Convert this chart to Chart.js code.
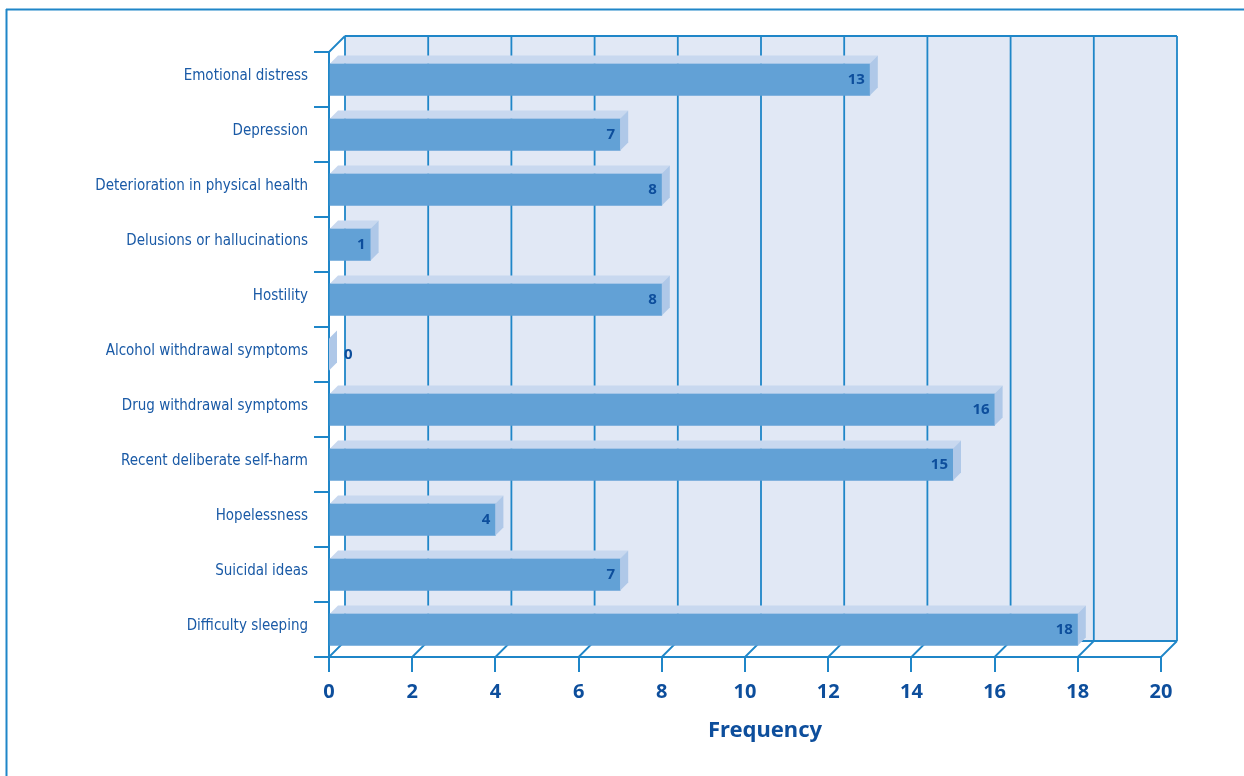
<!DOCTYPE html>
<html>
<head>
<meta charset="utf-8">
<script src="https://cdn.jsdelivr.net/npm/chart.js@4/dist/chart.umd.min.js"></script>
<style>
  html, body { margin: 0; padding: 0; background: #fff; }
  #wrap { width: 1244px; height: 776px; }
</style>
</head>
<body>
<div id="wrap"><canvas id="myChart" width="1244" height="776"></canvas></div>
<script>
const categories = [
  'Emotional distress',
  'Depression',
  'Deterioration in physical health',
  'Delusions or hallucinations',
  'Hostility',
  'Alcohol withdrawal symptoms',
  'Drug withdrawal symptoms',
  'Recent deliberate self-harm',
  'Hopelessness',
  'Suicidal ideas',
  'Difficulty sleeping'
];
const frequency = [13, 7, 8, 1, 8, 0, 16, 15, 4, 7, 18];
const xMin = 0, xMax = 20, xStep = 2;
const axisTitle = 'Frequency';

const LINE = '#1f86c8';
const TEXT = '#1a5aa6';
const TICKTXT = '#0d4e9c';
const WALL = '#e1e8f5';
const FRONT = '#62a1d6';
const TOPF = '#c8d8ef';
const SIDE = '#afc8e8';
const DEPTH = 16;   // wall depth offset
const BDEPTH = 8;   // bar depth offset

// frame, back wall, floor
const walls = {
  id: 'walls',
  beforeDraw(chart) {
    const ctx = chart.ctx;
    ctx.save();
    ctx.strokeStyle = LINE;
    ctx.lineWidth = 2;
    ctx.beginPath();
    ctx.moveTo(6, 9.5); ctx.lineTo(1244, 9.5);
    ctx.moveTo(6.5, 9); ctx.lineTo(6.5, 776);
    ctx.stroke();
    ctx.restore();
  },
  beforeDatasetsDraw(chart) {
    const ctx = chart.ctx;
    const xs = chart.scales.x;
    const a = chart.chartArea;
    const x0 = xs.getPixelForValue(xMin), x1 = xs.getPixelForValue(xMax);
    ctx.save();
    ctx.fillStyle = WALL;
    ctx.fillRect(x0 + DEPTH, a.top - DEPTH, x1 - x0, a.bottom - a.top);
    ctx.strokeStyle = LINE;
    ctx.lineWidth = 1.8;
    ctx.beginPath();
    for (let v = xMin; v <= xMax; v += xStep) {
      const px = xs.getPixelForValue(v);
      // back wall grid line
      ctx.moveTo(px + DEPTH, a.top - DEPTH);
      ctx.lineTo(px + DEPTH, a.bottom - DEPTH);
      // floor diagonal
      ctx.moveTo(px, a.bottom);
      ctx.lineTo(px + DEPTH, a.bottom - DEPTH);
    }
    // back wall top and bottom
    ctx.moveTo(x0 + DEPTH, a.top - DEPTH); ctx.lineTo(x1 + DEPTH, a.top - DEPTH);
    ctx.moveTo(x0 + DEPTH, a.bottom - DEPTH); ctx.lineTo(x1 + DEPTH, a.bottom - DEPTH);
    // side wall top diagonal
    ctx.moveTo(x0, a.top); ctx.lineTo(x0 + DEPTH, a.top - DEPTH);
    ctx.stroke();
    ctx.restore();
  },
  afterDatasetsDraw(chart) {
    const ctx = chart.ctx;
    const meta = chart.getDatasetMeta(0);
    ctx.save();
    meta.data.forEach((bar, i) => {
      const { x, y, base, height } = bar.getProps(['x', 'y', 'base', 'height'], true);
      const top = y - height / 2, bottom = y + height / 2;
      // top face
      ctx.fillStyle = TOPF;
      ctx.beginPath();
      ctx.moveTo(base, top);
      ctx.lineTo(x, top);
      ctx.lineTo(x + BDEPTH, top - BDEPTH);
      ctx.lineTo(base + BDEPTH, top - BDEPTH);
      ctx.closePath();
      ctx.fill();
      // side face
      ctx.fillStyle = SIDE;
      ctx.beginPath();
      ctx.moveTo(x, top);
      ctx.lineTo(x + BDEPTH, top - BDEPTH);
      ctx.lineTo(x + BDEPTH, bottom - BDEPTH);
      ctx.lineTo(x, bottom);
      ctx.closePath();
      ctx.fill();
      // value label
      ctx.fillStyle = TICKTXT;
      ctx.font = 'bold 15px "Noto Sans", sans-serif';
      ctx.textBaseline = 'middle';
      const v = frequency[i];
      if (v > 0) {
        ctx.textAlign = 'right';
        ctx.fillText(String(v), x - 5, y);
      } else {
        ctx.textAlign = 'left';
        ctx.fillText(String(v), x + 15, y);
      }
    });
    ctx.restore();
  },
  afterDraw(chart) {
    const ctx = chart.ctx;
    const xs = chart.scales.x;
    ctx.save();
    ctx.fillStyle = TICKTXT;
    ctx.font = 'bold 22px "Noto Sans", sans-serif';
    ctx.textAlign = 'center';
    ctx.textBaseline = 'middle';
    ctx.fillText(axisTitle, (xs.left + xs.right) / 2 + 20, 731);
    ctx.restore();
  }
};

new Chart(document.getElementById('myChart').getContext('2d'), {
  type: 'bar',
  data: {
    labels: categories,
    datasets: [{
      label: axisTitle,
      data: frequency,
      backgroundColor: FRONT,
      borderWidth: 0,
      barThickness: 32
    }]
  },
  options: {
    indexAxis: 'y',
    responsive: false,
    animation: false,
    layout: { padding: { left: 0, top: 52, right: 83, bottom: 0 } },
    plugins: {
      legend: { display: false },
      tooltip: { enabled: false }
    },
    scales: {
      x: {
        min: xMin,
        max: xMax,
        ticks: {
          stepSize: xStep,
          color: TICKTXT,
          font: { family: '"Noto Sans", sans-serif', size: 20, weight: 'bold' },
          padding: 8,
          maxRotation: 0
        },
        grid: { drawOnChartArea: false, drawTicks: true, tickLength: 15, color: LINE, lineWidth: 2 },
        border: { display: true, color: LINE, width: 2 },
        afterFit: (scale) => { scale.height = 119; }
      },
      y: {
        ticks: {
          color: TEXT,
          font: { family: '"DejaVu Sans Condensed", "Liberation Sans Narrow", sans-serif', size: 15 },
          padding: 6,
          labelOffset: -3
        },
        grid: { drawOnChartArea: false, drawTicks: true, tickLength: 15, color: LINE, lineWidth: 2, offset: true },
        border: { display: true, color: LINE, width: 2 },
        afterFit: (scale) => { scale.width = 329; }
      }
    }
  },
  plugins: [walls]
});
</script>
</body>
</html>
